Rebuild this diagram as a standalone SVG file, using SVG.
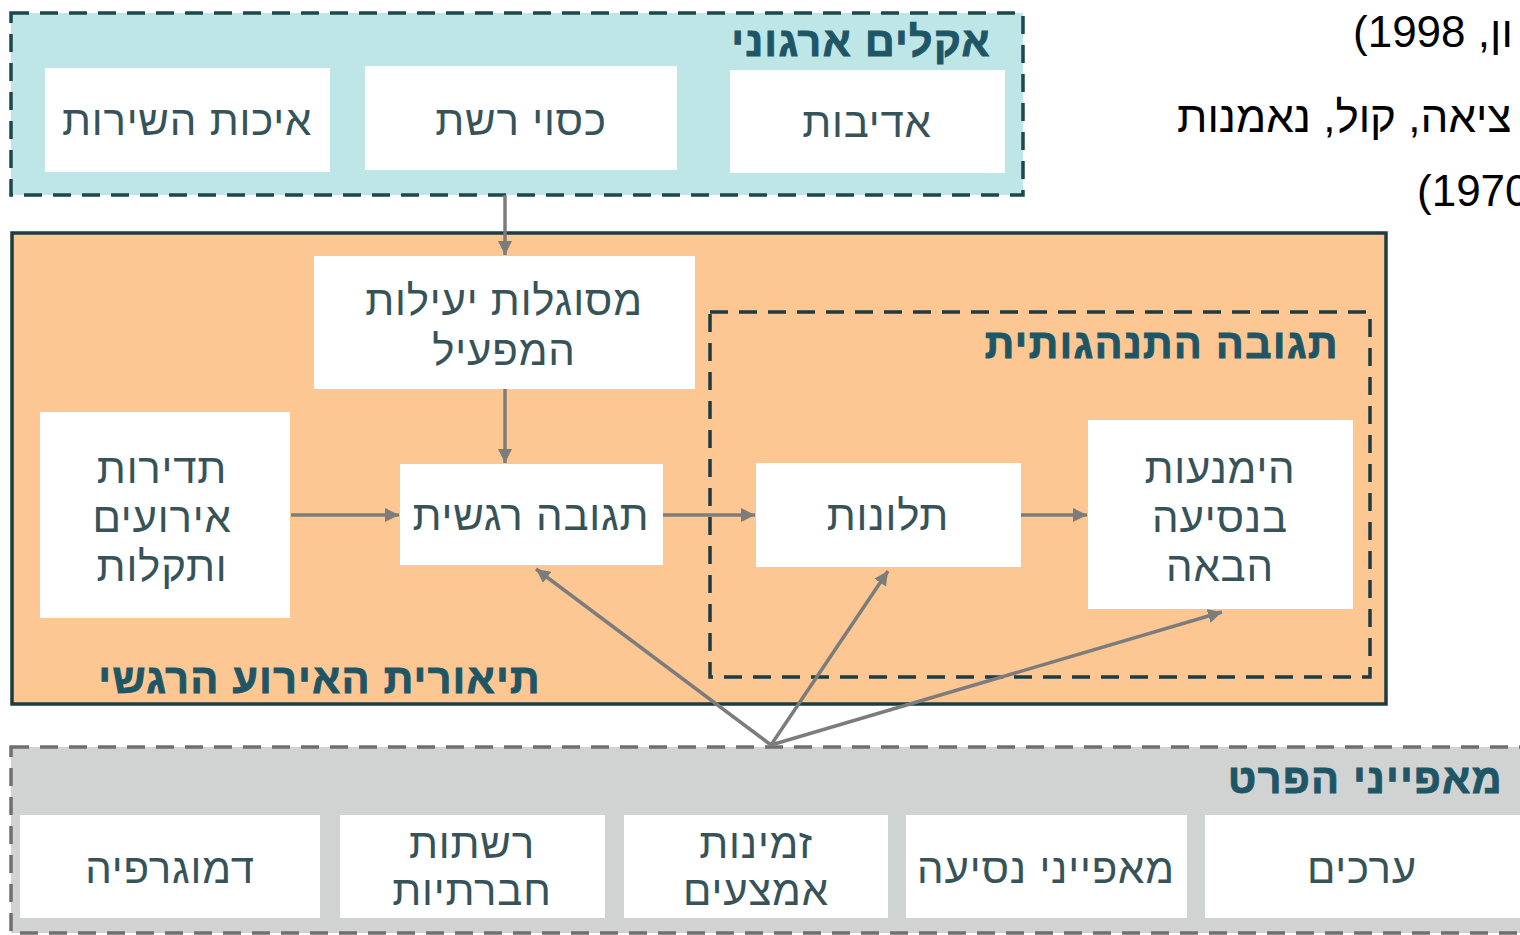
<svg xmlns="http://www.w3.org/2000/svg" width="1520" height="935" viewBox="0 0 1520 935">
<style>
.box{fill:#ffffff}
.t{font-family:"Liberation Sans","DejaVu Sans",sans-serif;font-size:42px;letter-spacing:0.8px;fill:#37535a;text-anchor:middle}
.h{font-family:"Liberation Sans","DejaVu Sans",sans-serif;font-size:41px;font-weight:bold;letter-spacing:1.5px;fill:#1f5666;stroke:#1f5666;stroke-width:1;text-anchor:end}
.side{font-family:"Liberation Sans",Arial,sans-serif;font-size:44px;fill:#000000}
.c{stroke:#7c7c7c;stroke-width:3.5;fill:none}
</style>
<defs>
<marker id="ah" viewBox="0 0 10 10" refX="10" refY="5" markerWidth="4" markerHeight="4" markerUnits="strokeWidth" orient="auto">
<path d="M0,0 L10,5 L0,10 z" fill="#7c7c7c"/>
</marker>
</defs>
<rect width="1520" height="935" fill="#ffffff"/>

<g id="side-text">
<text class="side" x="1353" y="47" direction="rtl" text-anchor="end">ון, 1998)</text>
<text class="side" x="1177" y="132" direction="rtl" text-anchor="end">ציאה, קול, נאמנות</text>
<text class="side" x="1417" y="206" direction="rtl" text-anchor="end">1970)</text>
</g>

<g id="org-climate">
<rect x="11" y="13" width="1012" height="182" fill="#bee6e6" stroke="#1d474c" stroke-width="3.5" stroke-dasharray="18 11"/>
<text class="h" x="991" y="56">אקלים ארגוני</text>
</g>
<g id="n-service"><rect class="box" x="45" y="68" width="285" height="104"/><text class="t" x="187" y="135">איכות השירות</text></g>
<g id="n-coverage"><rect class="box" x="365" y="66" width="312" height="104"/><text class="t" x="521" y="135">כסוי רשת</text></g>
<g id="n-courtesy"><rect class="box" x="730" y="70" width="275" height="103"/><text class="t" x="867" y="137">אדיבות</text></g>

<g id="aet">
<rect x="12" y="233" width="1374" height="471" fill="#fdc793" stroke="#1c3c41" stroke-width="3.5"/>
<text class="h" x="541" y="693">תיאורית האירוע הרגשי</text>
</g>
<g id="behavioral">
<rect x="710" y="312" width="660" height="365" fill="none" stroke="#1d3b40" stroke-width="3.5" stroke-dasharray="18 11"/>
<text class="h" x="1339" y="358">תגובה התנהגותית</text>
</g>
<g id="n-efficacy"><rect class="box" x="314" y="256" width="381" height="133"/><text class="t" x="504" y="315">מסוגלות יעילות</text><text class="t" x="504" y="365">המפעיל</text></g>
<g id="n-frequency"><rect class="box" x="40" y="412" width="250" height="206"/><text class="t" x="162" y="483">תדירות</text><text class="t" x="162" y="532">אירועים</text><text class="t" x="162" y="581">ותקלות</text></g>
<g id="n-emotional"><rect class="box" x="400" y="464" width="263" height="101"/><text class="t" x="531" y="530">תגובה רגשית</text></g>
<g id="n-complaints"><rect class="box" x="756" y="463" width="265" height="104"/><text class="t" x="888" y="530">תלונות</text></g>
<g id="n-avoid"><rect class="box" x="1088" y="420" width="265" height="189"/><text class="t" x="1220" y="483">הימנעות</text><text class="t" x="1220" y="532">בנסיעה</text><text class="t" x="1220" y="581">הבאה</text></g>

<g id="individual">
<rect x="11" y="747" width="1530" height="186" fill="#d1d3d2" stroke="#6f6f6f" stroke-width="3.5" stroke-dasharray="18 11"/>
<text class="h" x="1503" y="793">מאפייני הפרט</text>
</g>
<g id="n-demography"><rect class="box" x="20" y="815" width="300" height="103"/><text class="t" x="170" y="883">דמוגרפיה</text></g>
<g id="n-social"><rect class="box" x="340" y="815" width="265" height="103"/><text class="t" x="472" y="858">רשתות</text><text class="t" x="472" y="905">חברתיות</text></g>
<g id="n-availability"><rect class="box" x="624" y="815" width="264" height="103"/><text class="t" x="756" y="858">זמינות</text><text class="t" x="756" y="905">אמצעים</text></g>
<g id="n-trip"><rect class="box" x="906" y="815" width="281" height="103"/><text class="t" x="1046" y="883">מאפייני נסיעה</text></g>
<g id="n-values"><rect class="box" x="1205" y="815" width="315" height="103"/><text class="t" x="1362" y="883">ערכים</text></g>

<g id="connectors">
<line class="c" x1="505" y1="195" x2="505" y2="255" marker-end="url(#ah)"/>
<line class="c" x1="505" y1="389" x2="505" y2="463" marker-end="url(#ah)"/>
<line class="c" x1="291" y1="515" x2="399" y2="515" marker-end="url(#ah)"/>
<line class="c" x1="663" y1="515" x2="755" y2="515" marker-end="url(#ah)"/>
<line class="c" x1="1021" y1="515" x2="1087" y2="515" marker-end="url(#ah)"/>
<line class="c" x1="771" y1="745" x2="536" y2="569" marker-end="url(#ah)"/>
<line class="c" x1="771" y1="745" x2="888" y2="571" marker-end="url(#ah)"/>
<line class="c" x1="771" y1="745" x2="1222" y2="612" marker-end="url(#ah)"/>
</g>
</svg>
